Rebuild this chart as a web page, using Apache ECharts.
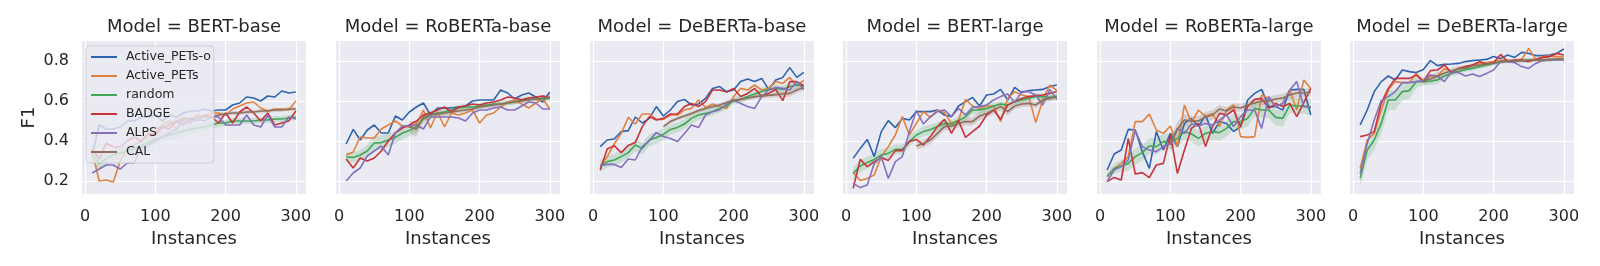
<!DOCTYPE html>
<html>
<head>
<meta charset="utf-8">
<script src="https://cdn.jsdelivr.net/npm/echarts@6/dist/echarts.min.js"></script>
<style>html,body{margin:0;padding:0;background:#fff}#c{width:1600px;height:266px}</style>
</head>
<body>
<div id="c"></div>
<script>
// ---------- data ----------
const models = ['BERT-base', 'RoBERTa-base', 'DeBERTa-base', 'BERT-large', 'RoBERTa-large', 'DeBERTa-large'];
const methods = ['Active_PETs-o', 'Active_PETs', 'random', 'BADGE', 'ALPS', 'CAL'];
const xInstances = [10,20,30,40,50,60,70,80,90,100,110,120,130,140,150,160,170,180,190,200,210,220,230,240,250,260,270,280,290,300];
const xInstancesCAL = [100,110,120,130,140,150,160,170,180,190,200,210,220,230,240,250,260,270,280,290,300];
const xTicks = [0, 100, 200, 300];
const yTicks = [0.2, 0.4, 0.6, 0.8];

// BERT-base
const bertBase_apo   = [0.33,0.48,0.46,0.46,0.47,0.50,0.50,0.52,0.52,0.53,0.50,0.53,0.52,0.54,0.55,0.55,0.56,0.55,0.555,0.555,0.58,0.59,0.62,0.615,0.60,0.625,0.62,0.65,0.64,0.645];
const bertBase_ap    = [0.35,0.20,0.205,0.195,0.30,0.36,0.38,0.40,0.43,0.44,0.48,0.50,0.46,0.52,0.50,0.53,0.52,0.54,0.54,0.53,0.56,0.575,0.59,0.595,0.565,0.55,0.56,0.56,0.555,0.60];
const bertBase_rand  = [0.33,0.29,0.31,0.33,0.34,0.35,0.36,0.38,0.39,0.41,0.42,0.43,0.44,0.45,0.46,0.465,0.47,0.48,0.49,0.49,0.50,0.50,0.50,0.50,0.505,0.505,0.51,0.51,0.515,0.52];
const bertBase_badge = [0.36,0.31,0.39,0.37,0.37,0.40,0.42,0.40,0.44,0.43,0.47,0.46,0.50,0.48,0.51,0.50,0.53,0.52,0.49,0.54,0.49,0.545,0.57,0.54,0.50,0.54,0.48,0.49,0.50,0.55];
const bertBase_alps  = [0.24,0.26,0.28,0.28,0.26,0.29,0.29,0.37,0.38,0.40,0.42,0.44,0.46,0.50,0.49,0.51,0.50,0.52,0.52,0.48,0.48,0.48,0.53,0.48,0.47,0.53,0.47,0.47,0.52,0.51];
const bertBase_cal   = [0.46,0.47,0.48,0.50,0.51,0.51,0.52,0.52,0.52,0.53,0.535,0.54,0.54,0.545,0.545,0.55,0.55,0.555,0.555,0.56,0.56];
const bertBase_randCI = [0.04,0.035,0.035,0.03,0.03,0.03,0.03,0.03,0.03,0.025,0.025,0.025,0.025,0.02,0.02,0.02,0.02,0.02,0.02,0.015,0.015,0.015,0.015,0.015,0.015,0.015,0.015,0.015,0.015,0.015];
const bertBase_calCI  = [0.015,0.015,0.015,0.012,0.012,0.012,0.012,0.01,0.01,0.01,0.01,0.01,0.01,0.01,0.01,0.01,0.01,0.01,0.01,0.01,0.01];

// RoBERTa-base
const robertaBase_apo   = [0.385,0.458,0.405,0.455,0.48,0.44,0.44,0.525,0.505,0.545,0.57,0.59,0.53,0.565,0.565,0.565,0.57,0.575,0.60,0.605,0.605,0.605,0.655,0.64,0.61,0.63,0.64,0.62,0.595,0.645];
const robertaBase_ap    = [0.33,0.345,0.42,0.415,0.415,0.46,0.48,0.50,0.475,0.47,0.485,0.555,0.465,0.545,0.47,0.54,0.53,0.54,0.555,0.49,0.53,0.54,0.57,0.595,0.605,0.585,0.565,0.59,0.61,0.56];
const robertaBase_rand  = [0.32,0.318,0.33,0.35,0.39,0.392,0.405,0.418,0.44,0.452,0.472,0.51,0.53,0.54,0.545,0.555,0.565,0.57,0.57,0.575,0.58,0.585,0.585,0.59,0.595,0.605,0.61,0.61,0.61,0.615];
const robertaBase_badge = [0.31,0.265,0.315,0.30,0.315,0.35,0.40,0.44,0.465,0.48,0.50,0.53,0.54,0.555,0.57,0.545,0.57,0.575,0.585,0.58,0.59,0.595,0.605,0.62,0.615,0.605,0.615,0.62,0.625,0.615];
const robertaBase_alps  = [0.20,0.24,0.265,0.325,0.35,0.375,0.33,0.44,0.475,0.475,0.48,0.46,0.52,0.52,0.52,0.52,0.515,0.50,0.54,0.555,0.555,0.565,0.57,0.555,0.555,0.575,0.595,0.59,0.56,0.56];
const robertaBase_cal   = [0.47,0.46,0.52,0.53,0.535,0.54,0.545,0.55,0.555,0.56,0.57,0.575,0.58,0.585,0.59,0.595,0.60,0.605,0.61,0.615,0.62];
const robertaBase_randCI = [0.025,0.025,0.025,0.03,0.035,0.035,0.035,0.03,0.03,0.03,0.03,0.025,0.02,0.02,0.02,0.02,0.015,0.015,0.015,0.015,0.015,0.015,0.015,0.012,0.012,0.012,0.012,0.012,0.012,0.012];
const robertaBase_calCI  = [0.03,0.04,0.02,0.015,0.015,0.012,0.012,0.012,0.012,0.01,0.01,0.01,0.01,0.01,0.01,0.01,0.012,0.012,0.012,0.015,0.015];

// DeBERTa-base
const debertaBase_apo   = [0.372,0.405,0.41,0.447,0.452,0.52,0.49,0.513,0.572,0.525,0.555,0.597,0.608,0.58,0.585,0.613,0.663,0.672,0.647,0.655,0.697,0.71,0.697,0.713,0.658,0.705,0.718,0.767,0.718,0.743];
const debertaBase_ap    = [0.272,0.322,0.385,0.438,0.518,0.485,0.535,0.535,0.508,0.508,0.53,0.53,0.555,0.563,0.605,0.568,0.585,0.572,0.563,0.622,0.663,0.655,0.68,0.655,0.663,0.697,0.688,0.718,0.675,0.705];
const debertaBase_rand  = [0.275,0.297,0.305,0.322,0.342,0.38,0.363,0.405,0.418,0.433,0.458,0.468,0.485,0.513,0.53,0.538,0.547,0.563,0.575,0.602,0.608,0.622,0.635,0.647,0.658,0.663,0.658,0.672,0.68,0.675];
const debertaBase_badge = [0.255,0.36,0.377,0.342,0.378,0.392,0.472,0.522,0.505,0.513,0.535,0.535,0.572,0.588,0.572,0.597,0.655,0.655,0.645,0.663,0.622,0.638,0.663,0.622,0.638,0.658,0.602,0.697,0.697,0.675];
const debertaBase_alps  = [0.277,0.283,0.283,0.268,0.31,0.305,0.372,0.402,0.442,0.422,0.413,0.397,0.438,0.48,0.467,0.53,0.547,0.555,0.585,0.605,0.588,0.572,0.563,0.622,0.655,0.668,0.663,0.655,0.697,0.658];
const debertaBase_cal   = [0.472,0.497,0.513,0.525,0.538,0.552,0.562,0.572,0.58,0.592,0.602,0.608,0.615,0.622,0.625,0.628,0.632,0.635,0.638,0.655,0.668];
const debertaBase_randCI = [0.03,0.03,0.03,0.03,0.03,0.03,0.03,0.03,0.03,0.03,0.025,0.025,0.025,0.025,0.025,0.02,0.02,0.02,0.02,0.02,0.02,0.02,0.02,0.02,0.02,0.02,0.02,0.02,0.02,0.02];
const debertaBase_calCI  = [0.01,0.01,0.01,0.01,0.01,0.01,0.01,0.01,0.01,0.01,0.01,0.01,0.01,0.012,0.012,0.012,0.015,0.015,0.015,0.015,0.015];

// BERT-large
const bertLarge_apo   = [0.313,0.363,0.408,0.322,0.447,0.502,0.467,0.513,0.505,0.547,0.547,0.547,0.555,0.53,0.522,0.575,0.597,0.618,0.575,0.63,0.635,0.658,0.605,0.668,0.642,0.652,0.655,0.658,0.672,0.68];
const bertLarge_ap    = [0.243,0.202,0.213,0.23,0.322,0.372,0.43,0.522,0.43,0.488,0.547,0.518,0.555,0.542,0.488,0.505,0.608,0.575,0.563,0.575,0.575,0.497,0.613,0.647,0.63,0.622,0.492,0.605,0.68,0.652];
const bertLarge_rand  = [0.238,0.275,0.292,0.308,0.33,0.338,0.358,0.358,0.397,0.43,0.447,0.458,0.472,0.488,0.485,0.502,0.522,0.555,0.555,0.563,0.575,0.585,0.58,0.597,0.605,0.613,0.622,0.622,0.618,0.622];
const bertLarge_badge = [0.163,0.308,0.272,0.297,0.317,0.302,0.352,0.352,0.397,0.408,0.38,0.422,0.472,0.508,0.438,0.502,0.418,0.447,0.475,0.53,0.555,0.508,0.58,0.597,0.613,0.622,0.627,0.63,0.638,0.647];
const bertLarge_alps  = [0.188,0.167,0.18,0.288,0.322,0.213,0.297,0.322,0.447,0.552,0.485,0.522,0.547,0.555,0.522,0.563,0.53,0.568,0.572,0.58,0.605,0.622,0.635,0.592,0.647,0.647,0.63,0.58,0.658,0.608];
const bertLarge_cal   = [0.375,0.388,0.405,0.438,0.472,0.475,0.488,0.497,0.497,0.525,0.538,0.555,0.572,0.547,0.575,0.585,0.588,0.58,0.605,0.613,0.622];
const bertLarge_randCI = [0.03,0.03,0.03,0.03,0.03,0.03,0.025,0.025,0.025,0.025,0.025,0.025,0.02,0.02,0.02,0.02,0.02,0.02,0.02,0.02,0.015,0.015,0.015,0.015,0.015,0.015,0.015,0.015,0.015,0.015];
const bertLarge_calCI  = [0.02,0.02,0.02,0.02,0.02,0.02,0.02,0.02,0.02,0.02,0.02,0.02,0.02,0.02,0.015,0.015,0.015,0.015,0.015,0.015,0.015];

// RoBERTa-large
const robertaLarge_apo   = [0.255,0.335,0.355,0.458,0.455,0.347,0.263,0.447,0.355,0.438,0.372,0.488,0.513,0.472,0.53,0.438,0.497,0.488,0.447,0.472,0.605,0.638,0.658,0.572,0.572,0.555,0.655,0.658,0.658,0.53];
const robertaLarge_ap    = [0.222,0.263,0.288,0.322,0.497,0.497,0.535,0.455,0.438,0.475,0.372,0.58,0.492,0.555,0.522,0.538,0.472,0.555,0.58,0.422,0.418,0.422,0.63,0.613,0.572,0.588,0.655,0.555,0.705,0.663];
const robertaLarge_rand  = [0.222,0.263,0.275,0.288,0.322,0.342,0.375,0.372,0.397,0.397,0.413,0.447,0.435,0.413,0.438,0.447,0.442,0.463,0.497,0.497,0.513,0.563,0.555,0.555,0.518,0.513,0.58,0.575,0.575,0.568];
const robertaLarge_badge = [0.197,0.218,0.205,0.413,0.235,0.242,0.217,0.28,0.288,0.43,0.238,0.355,0.463,0.488,0.372,0.472,0.538,0.53,0.555,0.472,0.572,0.608,0.613,0.563,0.588,0.572,0.588,0.522,0.592,0.663];
const robertaLarge_alps  = [0.197,0.255,0.272,0.305,0.452,0.372,0.355,0.347,0.372,0.388,0.463,0.438,0.485,0.475,0.488,0.48,0.505,0.53,0.472,0.522,0.555,0.555,0.463,0.622,0.572,0.588,0.655,0.697,0.572,0.568];
const robertaLarge_cal   = [0.38,0.46,0.505,0.50,0.50,0.52,0.53,0.56,0.55,0.57,0.565,0.58,0.59,0.60,0.60,0.61,0.615,0.63,0.64,0.64,0.645];
const robertaLarge_randCI = [0.02,0.025,0.03,0.035,0.04,0.04,0.04,0.04,0.04,0.04,0.04,0.04,0.04,0.04,0.04,0.04,0.04,0.04,0.04,0.04,0.04,0.04,0.04,0.04,0.04,0.04,0.04,0.04,0.04,0.04];
const robertaLarge_calCI  = [0.04,0.035,0.03,0.025,0.025,0.025,0.025,0.02,0.02,0.02,0.02,0.02,0.02,0.02,0.02,0.02,0.02,0.02,0.02,0.02,0.02];

// DeBERTa-large
const debertaLarge_apo   = [0.48,0.555,0.647,0.697,0.725,0.705,0.755,0.747,0.742,0.758,0.802,0.777,0.783,0.785,0.788,0.797,0.802,0.805,0.808,0.822,0.813,0.83,0.818,0.843,0.838,0.827,0.827,0.83,0.838,0.86];
const debertaLarge_ap    = [0.263,0.405,0.438,0.555,0.655,0.697,0.692,0.692,0.738,0.697,0.725,0.725,0.763,0.747,0.763,0.772,0.78,0.788,0.792,0.797,0.805,0.802,0.802,0.808,0.863,0.808,0.822,0.825,0.822,0.822];
const debertaLarge_rand  = [0.213,0.355,0.405,0.488,0.605,0.605,0.647,0.652,0.697,0.697,0.70,0.705,0.725,0.738,0.747,0.758,0.763,0.772,0.78,0.788,0.797,0.80,0.80,0.802,0.802,0.805,0.805,0.805,0.808,0.808];
const debertaLarge_badge = [0.422,0.43,0.447,0.588,0.663,0.713,0.713,0.713,0.73,0.697,0.752,0.755,0.78,0.742,0.763,0.772,0.78,0.797,0.785,0.792,0.833,0.797,0.805,0.805,0.797,0.808,0.818,0.822,0.838,0.83];
const debertaLarge_alps  = [0.238,0.388,0.505,0.602,0.622,0.647,0.692,0.692,0.697,0.702,0.73,0.725,0.697,0.747,0.742,0.725,0.735,0.722,0.738,0.755,0.797,0.797,0.792,0.772,0.763,0.788,0.802,0.805,0.805,0.805];
const debertaLarge_cal   = [0.702,0.71,0.725,0.74,0.75,0.76,0.765,0.775,0.78,0.785,0.79,0.795,0.80,0.80,0.802,0.805,0.805,0.805,0.808,0.81,0.81];
const debertaLarge_randCI = [0.04,0.05,0.05,0.05,0.05,0.05,0.045,0.04,0.03,0.02,0.02,0.02,0.015,0.015,0.015,0.012,0.012,0.012,0.012,0.012,0.01,0.01,0.01,0.01,0.01,0.01,0.01,0.01,0.01,0.01];
const debertaLarge_calCI  = [0.02,0.02,0.02,0.015,0.015,0.015,0.012,0.012,0.012,0.012,0.01,0.01,0.01,0.01,0.01,0.01,0.01,0.01,0.01,0.01,0.01];

// ---------- assembly ----------
const panelData = [
  [bertBase_apo, bertBase_ap, bertBase_rand, bertBase_badge, bertBase_alps, bertBase_cal, bertBase_randCI, bertBase_calCI],
  [robertaBase_apo, robertaBase_ap, robertaBase_rand, robertaBase_badge, robertaBase_alps, robertaBase_cal, robertaBase_randCI, robertaBase_calCI],
  [debertaBase_apo, debertaBase_ap, debertaBase_rand, debertaBase_badge, debertaBase_alps, debertaBase_cal, debertaBase_randCI, debertaBase_calCI],
  [bertLarge_apo, bertLarge_ap, bertLarge_rand, bertLarge_badge, bertLarge_alps, bertLarge_cal, bertLarge_randCI, bertLarge_calCI],
  [robertaLarge_apo, robertaLarge_ap, robertaLarge_rand, robertaLarge_badge, robertaLarge_alps, robertaLarge_cal, robertaLarge_randCI, robertaLarge_calCI],
  [debertaLarge_apo, debertaLarge_ap, debertaLarge_rand, debertaLarge_badge, debertaLarge_alps, debertaLarge_cal, debertaLarge_randCI, debertaLarge_calCI]
];

const colors = ['#3063ae', '#e2803d', '#3fa557', '#c9333a', '#8470bd', '#8d6f5c'];
const bandColors = ['rgba(63,165,87,0.2)', 'rgba(141,111,92,0.22)'];
const FONT = '"DejaVu Sans", sans-serif';
const TXT = '#262626';

const gridLefts = [82, 336, 590, 843, 1097, 1350];
const GW = 224, GT = 41, GH = 153;

const grids = [], xAxes = [], yAxes = [], titles = [], series = [];
const zip = (xs, ys) => ys.map((v, i) => [xs[i], v]);

models.forEach((m, p) => {
  grids.push({ left: gridLefts[p], top: GT, width: GW, height: GH, show: true, backgroundColor: '#EAEAF2', borderWidth: 0 });
  xAxes.push({
    type: 'value', gridIndex: p, min: -4.5, max: 314.5,
    name: 'Instances', nameLocation: 'middle', nameGap: 27,
    nameTextStyle: { fontSize: 18, color: TXT, fontFamily: FONT },
    axisLine: { show: false },
    axisTick: { show: false, customValues: xTicks },
    axisLabel: { customValues: xTicks, fontSize: 16, color: TXT, fontFamily: FONT, margin: 15 },
    splitLine: { show: true, lineStyle: { color: '#ffffff', width: 1.2 } }
  });
  yAxes.push({
    type: 'value', gridIndex: p, min: 0.135, max: 0.9,
    name: p === 0 ? 'F1' : '', nameLocation: 'middle', nameGap: 44,
    nameTextStyle: { fontSize: 18, color: TXT, fontFamily: FONT },
    axisLine: { show: false },
    axisTick: { show: false, customValues: yTicks },
    axisLabel: { show: p === 0, customValues: yTicks, fontSize: 16, color: TXT, fontFamily: FONT, margin: 13,
      formatter: v => v.toFixed(1) },
    splitLine: { show: true, lineStyle: { color: '#ffffff', width: 1.2 } }
  });
  titles.push({
    text: 'Model = ' + m, left: gridLefts[p] + GW / 2, top: 18.5, textAlign: 'center', padding: 0,
    textStyle: { fontSize: 18, fontWeight: 'normal', color: TXT, fontFamily: FONT }
  });

  const d = panelData[p];
  // confidence bands (random, CAL) drawn as polygons through the axis scales
  const bandDefs = [
    { xs: xInstances, mean: d[2], ci: d[6], color: bandColors[0] },
    { xs: xInstancesCAL, mean: d[5], ci: d[7], color: bandColors[1] }
  ];
  bandDefs.forEach(b => {
    series.push({
      type: 'custom', name: '_band', xAxisIndex: p, yAxisIndex: p, silent: true, z: 1,
      data: [[b.xs[0], b.mean[0]]],
      renderItem: (params, api) => {
        const up = b.xs.map((x, i) => api.coord([x, b.mean[i] + b.ci[i]]));
        const lo = b.xs.map((x, i) => api.coord([x, b.mean[i] - b.ci[i]])).reverse();
        return { type: 'polygon', shape: { points: up.concat(lo) }, style: { fill: b.color } };
      }
    });
  });
  methods.forEach((name, k) => {
    series.push({
      type: 'line', name, xAxisIndex: p, yAxisIndex: p, symbol: 'none', z: 2,
      color: colors[k], lineStyle: { width: 1.6, color: colors[k] },
      data: zip(k === 5 ? xInstancesCAL : xInstances, d[k])
    });
  });
});

const chart = echarts.init(document.getElementById('c'), null, { renderer: 'canvas' });
chart.setOption({
  animation: false,
  backgroundColor: '#ffffff',
  title: titles,
  grid: grids,
  xAxis: xAxes,
  yAxis: yAxes,
  legend: {
    data: methods, orient: 'vertical', left: 86, top: 46,
    backgroundColor: 'rgba(234,234,242,0.8)', borderColor: '#cfcfd6', borderWidth: 1, borderRadius: 3,
    padding: [4, 3, 4, 5], itemGap: 5, itemWidth: 26, itemHeight: 14,
    icon: 'path://M0,6 L26,6 L26,8 L0,8 Z',
    textStyle: { fontSize: 12.5, color: TXT, fontFamily: FONT, lineHeight: 14, padding: [0, 0, 0, 4] },
    selectedMode: false
  },
  series
});
</script>
</body>
</html>
